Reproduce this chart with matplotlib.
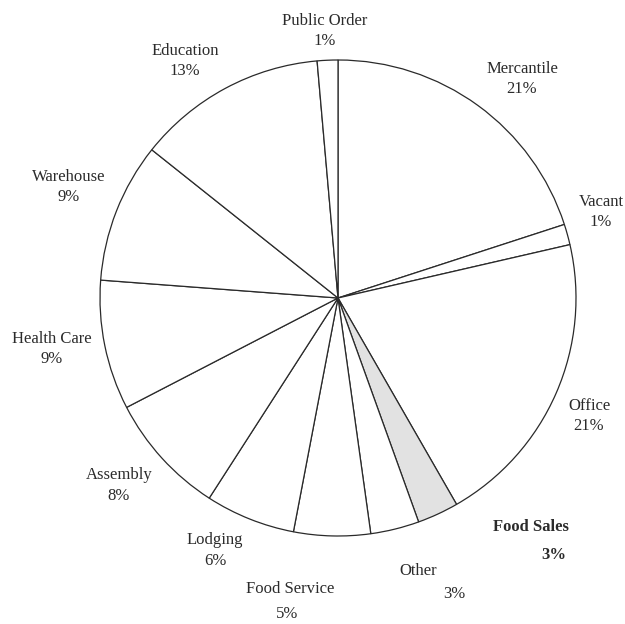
import matplotlib.pyplot as plt

# share of floorspace by building type (clockwise from top)
categories = ["Mercantile", "Vacant", "Office", "Food Sales", "Other", "Food Service",
              "Lodging", "Assembly", "Health Care", "Warehouse", "Education", "Public Order"]
shares = [20.0, 1.4, 20.3, 2.8, 3.3, 5.2, 6.1, 8.3, 8.8, 9.5, 12.9, 1.4]
pct_labels = ["21%", "1%", "21%", "3%", "3%", "5%", "6%", "8%", "9%", "9%", "13%", "1%"]
highlight = "Food Sales"

# label anchors in pixels of the 625x624 image: (name x, name y, pct x, pct y)
label_px = {
    "Mercantile": (522, 69, 522, 89),
    "Vacant": (601, 202, 601, 222),
    "Office": (589, 406, 589, 426),
    "Food Sales": (531, 527, 554, 555),
    "Other": (418, 571, 454, 594),
    "Food Service": (290, 589, 287, 614),
    "Lodging": (215, 540, 215, 561),
    "Assembly": (119, 475, 119, 496),
    "Health Care": (52, 339, 52, 359),
    "Warehouse": (69, 177, 69, 197),
    "Education": (185, 51, 185, 71),
    "Public Order": (325, 21, 325, 41),
}

CX, CY, R = 338, 298, 238  # pie centre and radius in pixels


def to_data(px, py):
    return (px - CX) / R, (CY - py) / R


plt.rcParams['font.family'] = ['Liberation Serif', 'DejaVu Serif']

fig = plt.figure(figsize=(6.25, 6.24), dpi=100)
ax = fig.add_axes([0, 0, 1, 1])

colors = ["#e2e2e2" if c == highlight else "white" for c in categories]
ax.pie(shares, colors=colors, startangle=90, counterclock=False, radius=1,
       wedgeprops=dict(edgecolor="#2a2a2a", linewidth=0.9))

for cat, pct in zip(categories, pct_labels):
    nx, ny, qx, qy = label_px[cat]
    weight = "bold" if cat == highlight else "normal"
    ax.text(*to_data(nx, ny), cat, ha="center", va="center", fontsize=12,
            color="#2b2b2b", fontweight=weight)
    ax.text(*to_data(qx, qy), pct, ha="center", va="center", fontsize=12,
            color="#2b2b2b", fontweight=weight)

ax.set_xlim(-CX / R, (625 - CX) / R)
ax.set_ylim(-(624 - CY) / R, CY / R)
ax.axis("off")

fig.savefig("out.png", dpi=100, facecolor="white")
